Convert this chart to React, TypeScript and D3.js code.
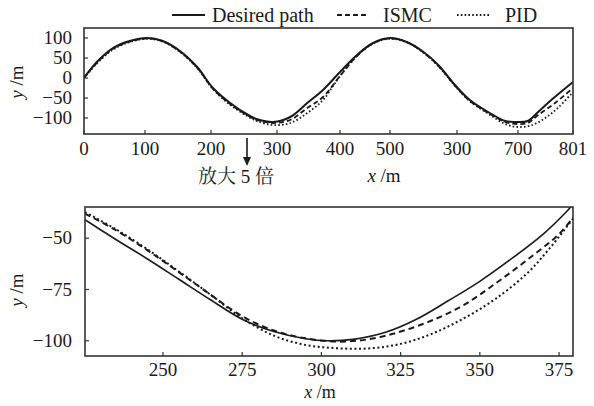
import React from "react";
import * as d3 from "d3";

// ---------- Top panel data ----------
const topTickValues = [0, 100, 200, 300, 400, 500, 600, 700, 801];
const topTickLabels = ["0", "100", "200", "300", "400", "500", "300", "700", "801"];
const topYTicks = [100, 50, 0, -50, -100];

const topDesiredX = [0, 21, 47.5, 75, 103, 127, 153, 179, 203, 229, 259, 270, 294, 321, 348, 373, 400, 434, 466, 500, 525, 550, 572, 597, 621, 651, 679, 695, 718, 737, 759, 801];
const topDesiredY = [0, 40, 75, 92.5, 100, 92.5, 67.5, 27.5, -25, -62.5, -95, -103, -110, -97.5, -62.5, -30, 15, 57.5, 87.5, 100, 90, 65, 32.5, -17.5, -55, -85, -107.5, -110, -107.5, -85, -57.5, -10];

const topIsmcX = [0, 21, 47.5, 75, 103, 127, 153, 179, 203, 229, 259, 270, 294, 321, 348, 373, 400, 434, 466, 500, 525, 550, 572, 597, 621, 651, 679, 700, 718, 737, 768, 801];
const topIsmcY = [0, 38, 73, 91, 99, 92, 66, 26, -27, -65, -97, -105, -112.5, -105, -75, -47.5, 5, 55, 87, 99, 90, 64, 31, -19, -57, -87, -110, -115, -112.5, -92.5, -62.5, -25];

const topPidX = [0, 21, 47.5, 75, 103, 127, 153, 179, 203, 229, 259, 270, 294, 321, 348, 373, 389, 400, 434, 466, 500, 525, 550, 572, 597, 621, 651, 679, 700, 726, 750, 773, 801];
const topPidY = [0, 36, 71, 90, 98, 91, 65, 25, -28, -67, -99, -108, -117.5, -112.5, -87.5, -55, -20, 5, 55, 86, 98, 89, 63, 30, -20, -58, -89, -115, -122.5, -117.5, -100, -75, -35];

// ---------- Bottom panel data ----------
const botXTicks = [250, 275, 300, 325, 350, 375];
const botYTicks = [-50, -75, -100];

const botDesiredX = [225.4, 235, 245, 255, 265, 275, 285, 295, 302, 310, 320, 330, 340, 350, 360, 370, 377.4, 379.4];
const botDesiredY = [-41, -50.5, -60, -70, -80, -89.5, -95.5, -99, -100, -99.3, -96, -89.5, -80.5, -71, -60, -48, -37, -33.5];

const botIsmcX = [225.4, 235, 245, 255, 265, 275, 285, 295, 305, 315, 325, 335, 345, 355, 365, 375, 379.4];
const botIsmcY = [-38, -46, -55.8, -66.5, -77.5, -88, -95, -98.8, -100.4, -99.2, -95.5, -90, -82.5, -72, -60.5, -48, -40];

const botPidX = [225.4, 235, 245, 255, 265, 275, 285, 295, 305, 315, 325, 335, 345, 355, 365, 372, 379.4];
const botPidY = [-37.3, -45.5, -55.3, -66.2, -77.5, -89, -97.5, -102, -103.6, -103.7, -101.5, -96.5, -89, -79.5, -67, -55, -40.5];

const legendLabels = ["Desired path", "ISMC", "PID"];

const SERIF = "'Liberation Serif', 'Times New Roman', serif";
const CJK = "'Liberation Serif', 'Noto Serif CJK SC', 'Noto Sans CJK SC', serif";
const INK = "#1a1a1a";

const styles = [
  { dash: undefined as string | undefined, width: 2 },
  { dash: "5,3", width: 1.8 },
  { dash: "1.6,2.2", width: 1.8 },
];

function zip(xs: number[], ys: number[]): [number, number][] {
  return xs.map((x, i) => [x, ys[i]]);
}

export default function App() {
  // Top panel scales
  const topRange = [84, 145, 211, 277, 340, 390, 457, 518, 573];
  const xTop = d3.scaleLinear().domain(topTickValues).range(topRange);
  const yTop = d3.scaleLinear().domain([-140, 125]).range([134, 28]);

  // Bottom panel scales
  const xBot = d3.scaleLinear().domain([225.4, 379.4]).range([85, 573]);
  const yBot = d3.scaleLinear().domain([-107.4, -34.8]).range([356, 207]);

  const lineTop = d3.line<[number, number]>().x((d) => xTop(d[0])).y((d) => yTop(d[1])).curve(d3.curveCatmullRom.alpha(0.5));
  const lineBot = d3.line<[number, number]>().x((d) => xBot(d[0])).y((d) => yBot(d[1])).curve(d3.curveCatmullRom.alpha(0.5));

  const topSeries = [zip(topDesiredX, topDesiredY), zip(topIsmcX, topIsmcY), zip(topPidX, topPidY)];
  const botSeries = [zip(botDesiredX, botDesiredY), zip(botIsmcX, botIsmcY), zip(botPidX, botPidY)];

  const [tx0, tx1] = [xTop.range()[0], xTop.range()[xTop.range().length - 1]];
  const [ty0, ty1] = [yTop.range()[1], yTop.range()[0]];
  const [bx0, bx1] = xBot.range();
  const [by0, by1] = [yBot.range()[1], yBot.range()[0]];

  const legendItems = [
    { x0: 172, x1: 205, tx: 212 },
    { x0: 337, x1: 369, tx: 383 },
    { x0: 457, x1: 489, tx: 505 },
  ];

  return (
    <svg width={594} height={406} style={{ position: "absolute", left: 0, top: 0, background: "#fff" }}>
      <defs>
        <clipPath id="clipTop">
          <rect x={tx0} y={ty0} width={tx1 - tx0} height={ty1 - ty0} />
        </clipPath>
        <clipPath id="clipBot">
          <rect x={bx0} y={by0} width={bx1 - bx0} height={by1 - by0} />
        </clipPath>
      </defs>

      {/* Legend */}
      {legendItems.map((it, i) => (
        <g key={i}>
          <line x1={it.x0} x2={it.x1} y1={15} y2={15} stroke={INK} strokeWidth={styles[i].width}
            strokeDasharray={styles[i].dash} />
          <text x={it.tx} y={21.5} fontFamily={SERIF} fontSize={20} fill={INK}>{legendLabels[i]}</text>
        </g>
      ))}

      {/* Top panel */}
      <g clipPath="url(#clipTop)">
        {topSeries.map((s, i) => (
          <path key={i} d={lineTop(s) || ""} fill="none" stroke={INK} strokeWidth={styles[i].width}
            strokeDasharray={styles[i].dash} />
        ))}
      </g>
      <rect x={tx0} y={ty0} width={tx1 - tx0} height={ty1 - ty0} fill="none" stroke="#333" strokeWidth={1.6} />
      {topTickValues.map((v, i) => (
        <g key={i}>
          <line x1={xTop(v)} x2={xTop(v)} y1={ty1} y2={ty1 - 4} stroke="#333" strokeWidth={1.2} />
          <text x={xTop(v)} y={155} textAnchor="middle" fontFamily={SERIF} fontSize={19} fill={INK}>{topTickLabels[i]}</text>
        </g>
      ))}
      {topYTicks.map((v) => (
        <g key={v}>
          <line x1={tx0} x2={tx0 + 4} y1={yTop(v)} y2={yTop(v)} stroke="#333" strokeWidth={1.2} />
          <text x={72} y={yTop(v) + 6} textAnchor="end" fontFamily={SERIF} fontSize={19} fill={INK}>
            {v < 0 ? "\u2212" + Math.abs(v) : String(v)}
          </text>
        </g>
      ))}
      <text transform={`translate(23,${(ty0 + ty1) / 2 + 1}) rotate(-90)`} textAnchor="middle" fontFamily={SERIF} fontSize={19} fill={INK}>
        <tspan fontStyle="italic">y</tspan> /m
      </text>
      <text x={384} y={182} textAnchor="middle" fontFamily={SERIF} fontSize={19} fill={INK}>
        <tspan fontStyle="italic">x</tspan> /m
      </text>

      {/* Zoom arrow and note */}
      <line x1={247} x2={247} y1={138} y2={160} stroke={INK} strokeWidth={1.6} />
      <path d="M243,157 L247,166 L251,157 Z" fill={INK} />
      <text x={236} y={183} textAnchor="middle" fontFamily={CJK} fontSize={19} fill={INK}>放大 5 倍</text>

      {/* Bottom panel */}
      <g clipPath="url(#clipBot)">
        {botSeries.map((s, i) => (
          <path key={i} d={lineBot(s) || ""} fill="none" stroke={INK}
            strokeWidth={i === 0 ? 1.6 : 2}
            strokeDasharray={i === 0 ? undefined : i === 1 ? "6,4" : "2,2.6"} />
        ))}
      </g>
      <rect x={bx0} y={by0} width={bx1 - bx0} height={by1 - by0} fill="none" stroke="#333" strokeWidth={1.6} />
      {botXTicks.map((v) => (
        <g key={v}>
          <line x1={xBot(v)} x2={xBot(v)} y1={by1} y2={by1 - 4} stroke="#333" strokeWidth={1.2} />
          <text x={xBot(v)} y={376} textAnchor="middle" fontFamily={SERIF} fontSize={19} fill={INK}>{v}</text>
        </g>
      ))}
      {botYTicks.map((v) => (
        <g key={v}>
          <line x1={bx0} x2={bx0 + 4} y1={yBot(v)} y2={yBot(v)} stroke="#333" strokeWidth={1.2} />
          <text x={72} y={yBot(v) + 6} textAnchor="end" fontFamily={SERIF} fontSize={19} fill={INK}>
            {"\u2212" + Math.abs(v)}
          </text>
        </g>
      ))}
      <text transform={`translate(23,290) rotate(-90)`} textAnchor="middle" fontFamily={SERIF} fontSize={19} fill={INK}>
        <tspan fontStyle="italic">y</tspan> /m
      </text>
      <text x={320} y={398} textAnchor="middle" fontFamily={SERIF} fontSize={18} fill={INK}>
        <tspan fontStyle="italic">x</tspan> /m
      </text>
    </svg>
  );
}
